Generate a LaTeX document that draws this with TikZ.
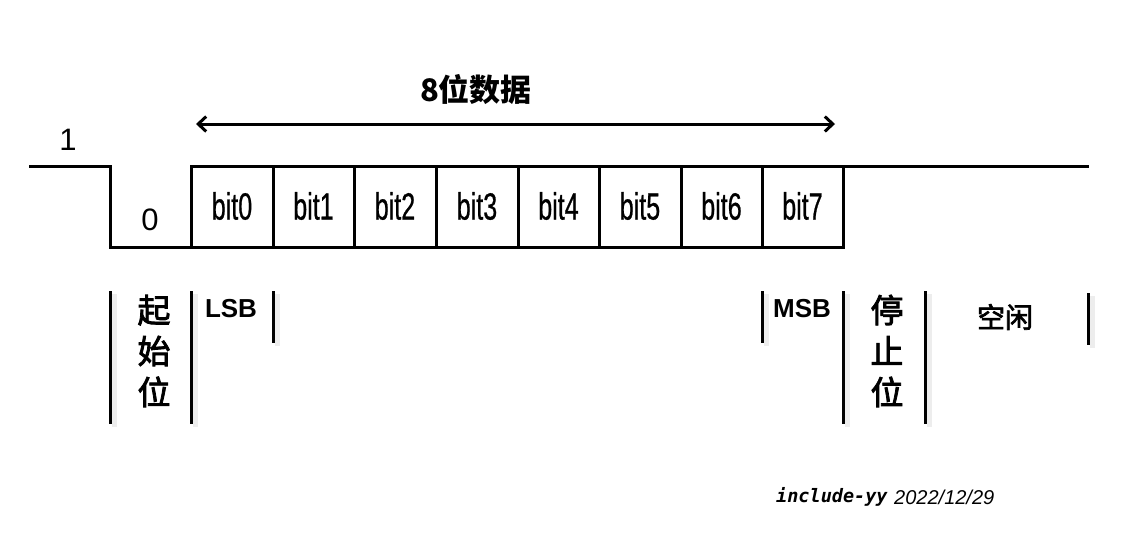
\documentclass[tikz,border=0pt]{standalone}
\usepackage{fontspec}
\setmainfont{Liberation Sans}
\newfontfamily\cjk{Noto Sans CJK SC}
\newfontfamily\cjkm[FakeBold=2.5]{Noto Sans CJK SC}
\newfontfamily\narrowfont[FakeStretch=0.66,FakeBold=0.6]{Liberation Sans}
\newfontfamily\monobi{DejaVu Sans Mono}
\usetikzlibrary{arrows.meta}
\tikzset{
  wave/.style={line width=3pt, line cap=rect},
  sep/.style={line width=3pt},
  sepshadow/.style={line width=5pt, black!7},
  bitlabel/.style={font=\narrowfont\fontsize{38}{40}\selectfont, inner sep=0pt},
  level/.style={font=\fontsize{31}{34}\selectfont, inner sep=0pt},
  cjklabel/.style={font=\cjkm\fontsize{33}{41}\selectfont, align=center, inner sep=0pt},
  tag/.style={font=\cjk\bfseries\fontsize{27}{30}\selectfont, inner sep=0pt},
}
\begin{document}
\begin{tikzpicture}[x=1pt,y=-1pt]
\useasboundingbox (0,0) rectangle (1131,542);
\fill[white] (0,0) rectangle (1131,542);

% waveform coordinates
\coordinate (w0) at (30,166);
\coordinate (w1) at (110,166);
\coordinate (w2) at (110,247);
\coordinate (w3) at (843,247);
\coordinate (t0) at (191,166);
\coordinate (t1) at (1087,166);

\draw[wave] (w0) -- (w1) -- (w2) -- (w3);
\draw[wave] (t0) -- (t1);
\foreach \x in {191,273,354,436,518,599,681,762,843}
  \draw[wave] (\x,166) -- (\x,247);

% bit labels
\node[bitlabel] (b0) at (232,206) {bit0};
\node[bitlabel] (b1) at (313.5,206) {bit1};
\node[bitlabel] (b2) at (395,206) {bit2};
\node[bitlabel] (b3) at (477,206) {bit3};
\node[bitlabel] (b4) at (558.5,206) {bit4};
\node[bitlabel] (b5) at (640,206) {bit5};
\node[bitlabel] (b6) at (721.5,206) {bit6};
\node[bitlabel] (b7) at (802.5,206) {bit7};

% levels
\node[level] (one) at (68,140) {1};
\node[level] (zero) at (150,220) {0};

% 8-bit arrow
\coordinate (aL) at (196,124);
\coordinate (aR) at (835,124);
\draw[line width=3pt, {Straight Barb[length=8pt,width=15pt]}-{Straight Barb[length=8pt,width=15pt]}] (aL) -- (aR);
\node[tag, font=\cjk\bfseries\fontsize{31}{34}\selectfont] (title) at (476,90) {8位数据};

% separators with soft shadow
\foreach \x/\a/\b in {110/291/424,191/291/424,273/291/343,762/291/343,843/291/424,925/291/424,1088/293/345}{
  \draw[sepshadow] (\x+4,\a+3) -- (\x+4,\b+3);
  \draw[sep] (\x,\a) -- (\x,\b);
}

% field labels
\node[cjklabel] (start) at (154,351) {起\\始\\位};
\node[cjklabel] (stop) at (887,351) {停\\止\\位};
\node[tag, font=\bfseries\fontsize{26}{30}\selectfont] (lsb) at (231,309) {LSB};
\node[tag, font=\bfseries\fontsize{26}{30}\selectfont] (msb) at (802,309) {MSB};
\node[tag, font=\cjkm\fontsize{28}{30}\selectfont] (idle) at (1005,317) {空闲};

% signature
\node[inner sep=0pt, anchor=west, font=\monobi\bfseries\itshape\fontsize{18.5}{20}\selectfont] (sig) at (776,497) {include-yy};
\node[inner sep=0pt, anchor=west, font=\itshape\fontsize{20}{22}\selectfont] (date) at (894,497) {2022/12/29};
\end{tikzpicture}
\end{document}
